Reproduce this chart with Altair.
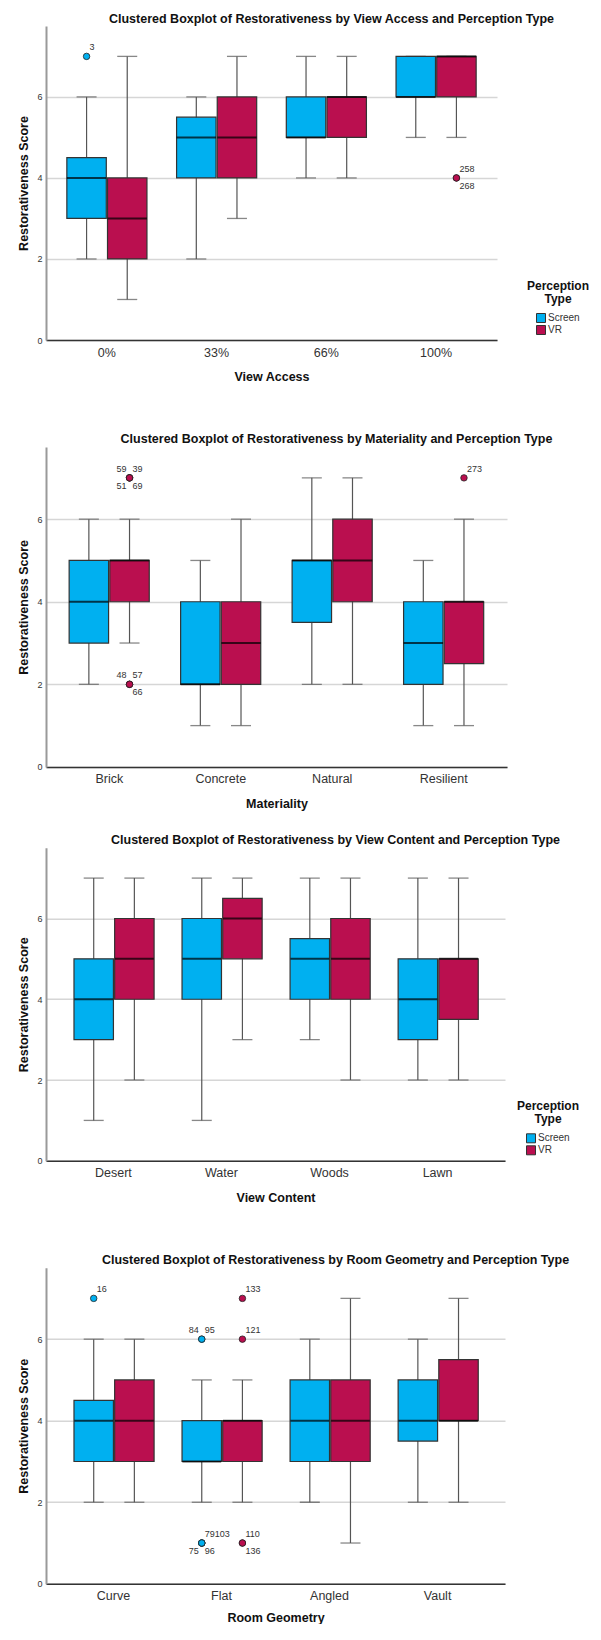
import altair as alt
import pandas as pd

FONT = "Liberation Sans"
TYPES = ["Screen", "VR"]
COLORS = ["#00B0F0", "#BA0F4F"]

# Each box: [lower whisker, Q1, median, Q3, upper whisker]
VA_CATS = ["0%", "33%", "66%", "100%"]
VA_SCREEN = [[2, 3, 4, 4.5, 6], [2, 4, 5, 5.5, 6], [4, 5, 5, 6, 7], [5, 6, 6, 7, 7]]
VA_VR = [[1, 2, 3, 4, 7], [3, 4, 5, 6, 7], [4, 5, 6, 6, 7], [5, 6, 7, 7, 7]]
VA_OUT = [["0%", "Screen", 7, "3"], ["100%", "VR", 4, "258"], ["100%", "VR", 4, "268"]]

MAT_CATS = ["Brick", "Concrete", "Natural", "Resilient"]
MAT_SCREEN = [[2, 3, 4, 5, 6], [1, 2, 2, 4, 5], [2, 3.5, 5, 5, 7], [1, 2, 3, 4, 5]]
MAT_VR = [[3, 4, 5, 5, 6], [1, 2, 3, 4, 6], [2, 4, 5, 6, 7], [1, 2.5, 4, 4, 6]]
MAT_OUT = [["Brick", "VR", 7, "59"], ["Brick", "VR", 7, "39"], ["Brick", "VR", 7, "51"],
           ["Brick", "VR", 7, "69"], ["Brick", "VR", 2, "48"], ["Brick", "VR", 2, "57"],
           ["Brick", "VR", 2, "66"], ["Resilient", "VR", 7, "273"]]

VC_CATS = ["Desert", "Water", "Woods", "Lawn"]
VC_SCREEN = [[1, 3, 4, 5, 7], [1, 4, 5, 6, 7], [3, 4, 5, 5.5, 7], [2, 3, 4, 5, 7]]
VC_VR = [[2, 4, 5, 6, 7], [3, 5, 6, 6.5, 7], [2, 4, 5, 6, 7], [2, 3.5, 5, 5, 7]]
VC_OUT = []

RG_CATS = ["Curve", "Flat", "Angled", "Vault"]
RG_SCREEN = [[2, 3, 4, 4.5, 6], [2, 3, 3, 4, 5], [2, 3, 4, 5, 6], [2, 3.5, 4, 5, 6]]
RG_VR = [[2, 3, 4, 5, 6], [2, 3, 4, 4, 5], [1, 3, 4, 5, 7], [2, 4, 4, 5.5, 7]]
RG_OUT = [["Curve", "Screen", 7, "16"], ["Flat", "Screen", 6, "84"], ["Flat", "Screen", 6, "95"],
          ["Flat", "Screen", 1, "79"], ["Flat", "Screen", 1, "103"], ["Flat", "Screen", 1, "75"],
          ["Flat", "Screen", 1, "96"], ["Flat", "VR", 7, "133"], ["Flat", "VR", 6, "121"],
          ["Flat", "VR", 1, "110"], ["Flat", "VR", 1, "136"]]

# label placement around outlier points (style)
LEFT_LABELS = {"59", "51", "48", "84", "75"}
LOWER_LABELS = {"268", "51", "69", "66", "75", "96", "136"}
SECOND_LABELS = {"103"}

TXT = "#111111"
LAB = "#333333"


def panel(cats, screen, vr, outs, title, xtitle, w, h, lx, ly, pin, pout, xtpad=12):
    rows = []
    for i, c in enumerate(cats):
        for t, arr in (("Screen", screen), ("VR", vr)):
            lo, q1, med, q3, hi = arr[i]
            rows.append({"cat": c, "type": t, "lo": lo, "q1": q1, "med": med, "q3": q3, "hi": hi})
    df = pd.DataFrame(rows)

    step = w / (len(cats) - pin + 2 * pout)
    band = step * (1 - pin)
    bw = band / (2 - 0.03) * 0.97

    xaxis = alt.Axis(labelAngle=0, ticks=False, labelPadding=6, labelFontSize=12.5,
                     labelColor=LAB, labelFont=FONT, domainColor="#333", domainWidth=1.5,
                     titleFontSize=12.5, titleFontWeight="bold", titleColor=TXT, titleFont=FONT,
                     titlePadding=xtpad)
    X = alt.X("cat:N", sort=cats,
              scale=alt.Scale(domain=cats, paddingInner=pin, paddingOuter=pout),
              axis=xaxis, title=xtitle)
    XO = alt.XOffset("type:N", scale=alt.Scale(domain=TYPES, paddingInner=0.03, paddingOuter=0))
    yscale = alt.Scale(domain=[0, 7.75], nice=False, zero=True)
    yaxis = alt.Axis(values=[0, 2, 4, 6], ticks=False, labelPadding=4, labelFontSize=9,
                     labelColor=LAB, labelFont=FONT, domainColor="#9a9a9a", domainWidth=2,
                     grid=True, gridColor="#d6d6d6", gridWidth=1.5,
                     titleFontSize=12.5, titleFontWeight="bold", titleColor=TXT, titleFont=FONT,
                     titlePadding=6)

    def Y(field):
        return alt.Y(f"{field}:Q", scale=yscale, axis=yaxis, title="Restorativeness Score")

    color = alt.Color("type:N", scale=alt.Scale(domain=TYPES, range=COLORS),
                      legend=alt.Legend(title=["Perception", "Type"], orient="none",
                                        legendX=lx, legendY=ly, titleAnchor="middle",
                                        titleAlign="center", titleFontSize=12,
                                        titleFontWeight="bold", titleColor=TXT, titleFont=FONT,
                                        titleLineHeight=13, titlePadding=7.5, labelFontSize=10,
                                        labelColor=LAB, labelFont=FONT, labelOffset=2,
                                        symbolType="square", symbolSize=81,
                                        symbolStrokeColor="#333", symbolStrokeWidth=1,
                                        rowPadding=-2.5, padding=0))

    base = alt.Chart(df)
    whisk = base.mark_rule(color="#555", strokeWidth=1.2).encode(x=X, xOffset=XO, y=Y("lo"), y2="hi:Q")
    caps = base.transform_fold(["lo", "hi"], as_=["k", "v"]).mark_tick(
        color="#555", thickness=1.3, size=20).encode(x=X, xOffset=XO, y=Y("v"))
    boxes = base.mark_bar(stroke="#333", strokeWidth=1.2).encode(
        x=X, xOffset=XO, y=Y("q1"), y2="q3:Q", color=color)
    meds = base.mark_tick(color="#000", thickness=2, size=bw).encode(x=X, xOffset=XO, y=Y("med"))
    layers = [whisk, caps, boxes, meds]

    if outs:
        od = []
        for c, t, v, lab in outs:
            side = "l" if lab in LEFT_LABELS else ("r2" if lab in SECOND_LABELS else "r")
            vert = "b" if lab in LOWER_LABELS else "t"
            od.append({"cat": c, "type": t, "v": v, "lab": lab, "slot": vert + side})
        odf = pd.DataFrame(od)
        ob = alt.Chart(odf)
        pts = ob.mark_circle(size=42, opacity=1, stroke="#222", strokeWidth=0.8).encode(
            x=X, xOffset=XO, y=Y("v"), color=color)
        layers.append(pts)
        offs = {"tr": ("left", 3, -9), "tl": ("right", -3, -9), "br": ("left", 3, 8),
                "bl": ("right", -3, 8), "tr2": ("left", 13, -9)}
        for slot, (al, dx, dy) in offs.items():
            if slot in set(odf["slot"]):
                layers.append(ob.transform_filter(alt.datum.slot == slot).mark_text(
                    align=al, baseline="middle", dx=dx, dy=dy, fontSize=9, font=FONT,
                    color=LAB).encode(x=X, xOffset=XO, y=Y("v"), text="lab:N"))

    return alt.layer(*layers).properties(
        width=w, height=h,
        title=alt.TitleParams(title, fontSize=12.5, fontWeight="bold", font=FONT, color=TXT,
                              anchor="middle", dx=60, offset=1))


p1 = panel(VA_CATS, VA_SCREEN, VA_VR, VA_OUT,
           "Clustered Boxplot of Restorativeness by View Access and Perception Type",
           "View Access", 451, 314, 481, 254.5, 0.27, 0.19)
p2 = panel(MAT_CATS, MAT_SCREEN, MAT_VR, MAT_OUT,
           "Clustered Boxplot of Restorativeness by Materiality and Perception Type",
           "Materiality", 461, 320, 474, 260, 0.28, 0.2076)
p3 = panel(VC_CATS, VC_SCREEN, VC_VR, VC_OUT,
           "Clustered Boxplot of Restorativeness by View Content and Perception Type",
           "View Content", 459, 313, 471, 253, 0.27, 0.259)
p4 = panel(RG_CATS, RG_SCREEN, RG_VR, RG_OUT,
           "Clustered Boxplot of Restorativeness by Room Geometry and Perception Type",
           "Room Geometry", 459, 316, 466, 255, 0.27, 0.259, xtpad=9)

top = alt.vconcat(p1, p2, spacing=49.9)
bottom = alt.vconcat(p3, p4, spacing=50)
chart = alt.vconcat(top, bottom, spacing=23.8).resolve_scale(
    x="independent", y="independent", color="independent").resolve_legend(
    color="independent").properties(
    padding={"left": 9, "top": 4, "right": 0, "bottom": 0}).configure(
    font=FONT).configure_view(stroke=None)

chart.save("out.html", embed_options={"renderer": "svg", "actions": False})
